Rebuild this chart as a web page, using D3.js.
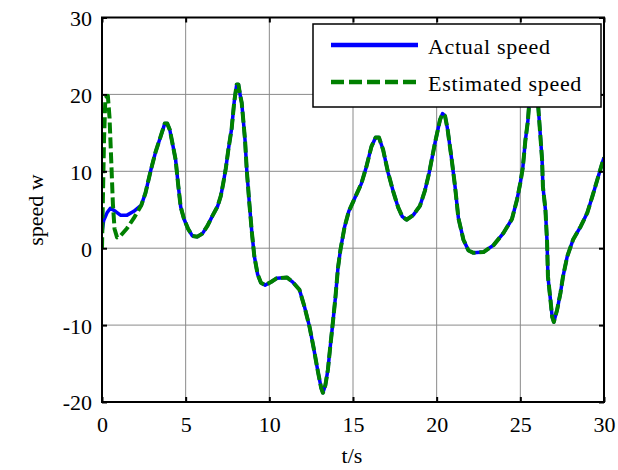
<!DOCTYPE html>
<html>
<head>
<meta charset="utf-8">
<script src="https://cdn.jsdelivr.net/npm/d3@7"></script>
<style>
  html, body { margin: 0; padding: 0; background: #fff; }
  svg { display: block; }
  text { font-family: "Liberation Serif", "Times New Roman", serif; fill: #000; }
</style>
</head>
<body>
<svg id="chart" width="618" height="470"></svg>
<script>
// Time samples (s) and measured rotor speed
const time = [0, 0.1, 0.3, 0.5, 0.8, 1.1, 1.5, 1.9, 2.35, 2.6, 2.9, 3.2, 3.5, 3.75, 3.9, 4.05, 4.25, 4.4, 4.55, 4.7, 4.9, 5.15, 5.4, 5.7, 6.0, 6.3, 6.6, 6.9, 7.1, 7.25, 7.4, 7.55, 7.75, 7.9, 8.05, 8.15, 8.25, 8.35, 8.45, 8.55, 8.65, 8.8, 8.95, 9.1, 9.3, 9.5, 9.75, 10.1, 10.45, 11.05, 11.4, 11.8, 12.1, 12.4, 12.65, 12.9, 13.1, 13.2, 13.35, 13.5, 13.65, 13.8, 13.95, 14.1, 14.25, 14.5, 14.75, 15.0, 15.25, 15.5, 15.8, 16.1, 16.35, 16.55, 16.8, 17.1, 17.4, 17.7, 17.95, 18.2, 18.6, 19.0, 19.3, 19.55, 19.9, 20.2, 20.35, 20.5, 20.65, 20.9, 21.1, 21.3, 21.6, 21.9, 22.2, 22.8, 23.4, 24.0, 24.5, 24.8, 25.0, 25.15, 25.3, 25.45, 25.55, 25.7, 25.85, 26.0, 26.1, 26.2, 26.3, 26.35, 26.5, 26.6, 26.65, 26.8, 26.9, 27.0, 27.2, 27.4, 27.55, 27.8, 28.15, 28.6, 29.0, 29.3, 29.6, 29.9, 30.0];
const actualSpeed = [2.0, 3.6, 4.6, 5.2, 4.8, 4.3, 4.3, 4.8, 5.6, 7.2, 10.0, 12.5, 14.5, 16.2, 16.2, 15.4, 13.2, 11.5, 8.3, 5.4, 3.8, 2.5, 1.6, 1.5, 1.9, 2.9, 4.2, 5.4, 6.8, 8.5, 10.4, 12.8, 15.6, 19.0, 21.3, 21.3, 20.0, 18.9, 16.5, 14.0, 10.2, 6.0, 2.2, -1.0, -3.4, -4.5, -4.8, -4.4, -3.9, -3.8, -4.4, -5.4, -7.6, -10.2, -13.0, -16.0, -18.2, -18.8, -17.8, -15.8, -12.6, -9.6, -6.4, -2.6, -0.2, 2.8, 4.8, 6.0, 7.2, 8.4, 10.6, 13.2, 14.4, 14.4, 12.8, 9.8, 7.4, 5.3, 4.1, 3.7, 4.3, 5.5, 7.5, 9.8, 13.7, 16.7, 17.5, 17.2, 15.5, 11.5, 8.0, 3.9, 1.1, -0.3, -0.6, -0.5, 0.4, 2.0, 3.8, 6.3, 8.5, 10.5, 14.0, 16.5, 19.5, 23.0, 23.5, 20.5, 17.5, 14.5, 11.5, 8.0, 5.0, 0.7, -3.7, -6.7, -8.9, -9.6, -8.0, -5.8, -3.7, -1.1, 1.1, 2.8, 4.6, 6.7, 8.9, 11.1, 11.8];

// Observer start-up transient before it locks onto the measured speed
const estStartTime = [0, 0.05, 0.12, 0.2, 0.35, 0.45, 0.55, 0.65, 0.75, 0.9, 1.1, 1.5, 1.9, 2.35];
const estStartSpeed = [0, 6, 14, 19.5, 19.8, 17, 11.5, 5.8, 2.5, 1.4, 1.6, 2.6, 3.9, 5.6];
const lockTime = 2.35;

const xTicks = [0, 5, 10, 15, 20, 25, 30];
const yTicks = [-20, -10, 0, 10, 20, 30];
const seriesNames = ["Actual speed", "Estimated speed"];

const actual = time.map((t, i) => [t, actualSpeed[i]]);
const estimated = estStartTime.map((t, i) => [t, estStartSpeed[i]])
  .concat(actual.filter(d => d[0] > lockTime));

const svg = d3.select("#chart");
const m = { left: 102, right: 604, top: 17.5, bottom: 402 };

const x = d3.scaleLinear().domain([0, 30]).range([m.left, m.right]);
const y = d3.scaleLinear().domain([-20, 30]).range([m.bottom, m.top]);

// grid
const grid = svg.append("g").attr("stroke", "#8a8a8a").attr("stroke-width", 1);
xTicks.slice(1, -1).forEach(t => grid.append("line")
  .attr("x1", x(t)).attr("x2", x(t)).attr("y1", m.top).attr("y2", m.bottom));
yTicks.slice(1, -1).forEach(t => grid.append("line")
  .attr("x1", m.left).attr("x2", m.right).attr("y1", y(t)).attr("y2", y(t)));

// curves
const line = d3.line().x(d => x(d[0])).y(d => y(d[1]));
svg.append("clipPath").attr("id", "plotclip").append("rect")
  .attr("x", m.left).attr("y", m.top).attr("width", m.right - m.left).attr("height", m.bottom - m.top);
const plot = svg.append("g").attr("clip-path", "url(#plotclip)");
plot.append("path").datum(actual).attr("d", line)
  .attr("fill", "none").attr("stroke", "#0000ff").attr("stroke-width", 3.5)
  .attr("stroke-linejoin", "round");
plot.append("path").datum(estimated).attr("d", line)
  .attr("fill", "none").attr("stroke", "#008000").attr("stroke-width", 4)
  .attr("stroke-dasharray", "11,4").attr("stroke-linejoin", "round");

// axes with inward ticks on all four sides; plain hyphen for negatives
const fmt = d => String(d);
const tl = 5;
const axB = svg.append("g").attr("transform", `translate(0,${m.bottom})`)
  .call(d3.axisBottom(x).tickValues(xTicks).tickSize(-tl).tickPadding(14).tickFormat(fmt));
const axT = svg.append("g").attr("transform", `translate(0,${m.top})`)
  .call(d3.axisTop(x).tickValues(xTicks).tickSize(-tl).tickFormat(""));
const axL = svg.append("g").attr("transform", `translate(${m.left},0)`)
  .call(d3.axisLeft(y).tickValues(yTicks).tickSize(-tl).tickPadding(10).tickFormat(fmt));
const axR = svg.append("g").attr("transform", `translate(${m.right},0)`)
  .call(d3.axisRight(y).tickValues(yTicks).tickSize(-tl).tickFormat(""));
[axB, axT, axL, axR].forEach(a => {
  a.select(".domain").remove();
  a.selectAll(".tick line").attr("stroke", "#000").attr("stroke-width", 2);
  a.selectAll("text").attr("font-size", 22).attr("fill", "#000");
});
axL.selectAll("text").attr("dy", "0.36em");

// frame
svg.append("rect").attr("x", m.left).attr("y", m.top)
  .attr("width", m.right - m.left).attr("height", m.bottom - m.top)
  .attr("fill", "none").attr("stroke", "#000").attr("stroke-width", 2);

// axis titles
svg.append("text").attr("x", 352).attr("y", 463).attr("text-anchor", "middle")
  .attr("font-size", 22).text("t/s");
svg.append("text").attr("transform", "translate(43,210) rotate(-90)")
  .attr("text-anchor", "middle").attr("font-size", 22).text("speed w");

// legend
const lg = svg.append("g");
lg.append("rect").attr("x", 313).attr("y", 24).attr("width", 288).attr("height", 83)
  .attr("fill", "#fff").attr("stroke", "#000").attr("stroke-width", 1.5);
const legRows = [
  { y: 45, color: "#0000ff", dash: null, w: 4.5 },
  { y: 82, color: "#008000", dash: "13,5", w: 4.5 }
];
legRows.forEach((r, i) => {
  lg.append("line").attr("x1", 331).attr("x2", 418).attr("y1", r.y).attr("y2", r.y)
    .attr("stroke", r.color).attr("stroke-width", r.w)
    .attr("stroke-dasharray", r.dash);
  lg.append("text").attr("x", 428).attr("y", r.y + 9).attr("font-size", 22)
    .attr("letter-spacing", 0.7).text(seriesNames[i]);
});
</script>
</body>
</html>
